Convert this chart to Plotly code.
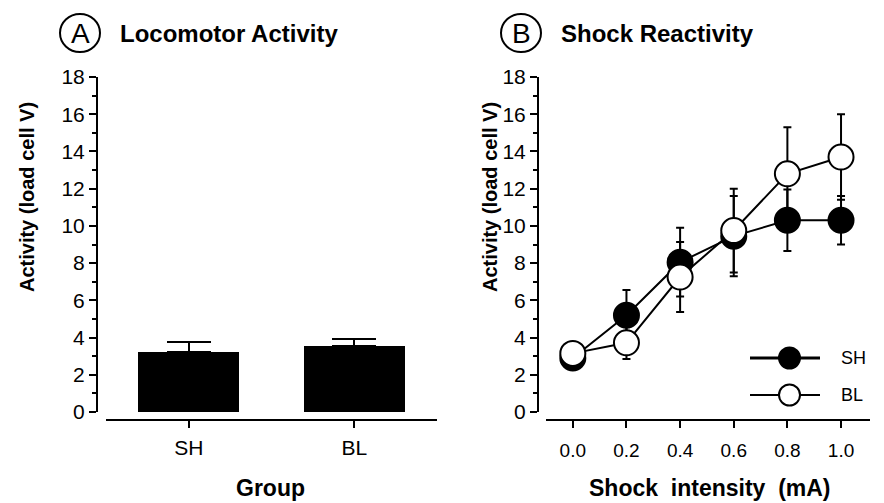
import plotly.graph_objects as go

W, H = 884, 503

# ---- data ----
groups = ["SH", "BL"]
loco_mean = [3.25, 3.55]
loco_sem = [0.50, 0.38]

shock_ma = [0.0, 0.2, 0.4, 0.6, 0.8, 1.0]
shock_ticktext = ["0.0", "0.2", "0.4", "0.6", "0.8", "1.0"]
sh_mean = [2.9, 5.2, 8.05, 9.45, 10.3, 10.3]
sh_sem = [0.25, 1.35, 1.85, 2.15, 1.65, 1.3]
bl_mean = [3.15, 3.72, 7.25, 9.75, 12.8, 13.7]
bl_sem = [0.25, 0.87, 1.88, 2.25, 2.5, 2.3]
y_ticks = list(range(0, 19, 2))

FONT = "Liberation Sans, Arial, Helvetica, sans-serif"


def px(x):
    return x / W


def py(y):
    return 1 - y / H


fig = go.Figure()

# Panel A bars
fig.add_trace(go.Bar(
    x=[0, 1], y=loco_mean, width=0.61,
    marker=dict(color="black", line=dict(width=0)),
    error_y=dict(type="data", array=loco_sem, arrayminus=[0, 0], symmetric=False,
                 color="black", thickness=2, width=22),
    xaxis="x", yaxis="y",
))

# Panel B lines
fig.add_trace(go.Scatter(
    x=shock_ma, y=sh_mean, mode="lines+markers", name="SH",
    line=dict(color="black", width=2),
    marker=dict(symbol="circle", size=25, color="black", line=dict(color="black", width=2)),
    error_y=dict(type="data", array=sh_sem, color="black", thickness=2, width=4),
    xaxis="x2", yaxis="y2",
))
fig.add_trace(go.Scatter(
    x=shock_ma, y=bl_mean, mode="lines+markers", name="BL",
    line=dict(color="black", width=2),
    marker=dict(symbol="circle", size=25, color="white", line=dict(color="black", width=2)),
    error_y=dict(type="data", array=bl_sem, color="black", thickness=2, width=4),
    xaxis="x2", yaxis="y2",
))

yax_common = dict(
    range=[0, 18], tickvals=y_ticks, showline=True, linewidth=2, linecolor="black",
    ticks="outside", ticklen=7, tickwidth=2, tickcolor="black",
    minor=dict(dtick=1, ticks="outside", ticklen=4, tickwidth=2, tickcolor="black"),
    showgrid=False, zeroline=False, anchor="free", automargin=False,
    tickfont=dict(family=FONT, size=21, color="black"),
    domain=[py(412), py(77)],
)
xax_common = dict(
    showline=True, linewidth=2, linecolor="black",
    ticks="outside", ticklen=7, tickwidth=2, tickcolor="black",
    showgrid=False, zeroline=False, anchor="free", position=py(420), automargin=False,
)

fig.update_layout(
    width=W, height=H, margin=dict(l=0, r=0, t=0, b=0, autoexpand=False),
    paper_bgcolor="white", plot_bgcolor="white", showlegend=False,
    bargap=0,
    xaxis=dict(domain=[px(106), px(437)], range=[-0.5, 1.5], tickvals=[0, 1], ticktext=groups,
               ticklabelstandoff=2,
               tickfont=dict(family=FONT, size=21, color="black"), **xax_common),
    yaxis=dict(position=px(97), **yax_common),
    xaxis2=dict(domain=[px(546), px(870)], range=[-0.1, 1.108], tickvals=shock_ma,
                ticktext=shock_ticktext, ticklabelstandoff=6,
                tickfont=dict(family=FONT, size=19, color="black"),
                **xax_common),
    yaxis2=dict(position=px(538), **yax_common),
)

ann = []


def add_text(text, x, y, size, xanchor="center", angle=0):
    ann.append(dict(text=text, x=px(x), y=py(y), xref="paper", yref="paper",
                    xanchor=xanchor, yanchor="middle", textangle=angle, showarrow=False,
                    font=dict(family=FONT, size=size, color="black")))


# axis titles
add_text("<b>Group</b>", 270, 488, 23)
add_text("<b>Shock  intensity  (mA)</b>", 710, 488, 23)
for xc in (27, 490):
    add_text("<b>Activity (load cell V)</b>", xc, 197, 20, angle=-90)
# panel titles
for cx, letter, title in ((80, "A", "Locomotor Activity"), (521, "B", "Shock Reactivity")):
    add_text(letter, cx, 33, 28)
    add_text("<b>" + title + "</b>", cx + 38, 33, 24, xanchor="left")
# legend text
for yy, name in ((358, "SH"), (395, "BL")):
    add_text(name, 839, yy, 18, xanchor="left")

shapes = []
for cx in (80, 521):
    shapes.append(dict(type="circle", xref="paper", yref="paper",
                       x0=px(cx - 20), x1=px(cx + 20), y0=py(52), y1=py(14),
                       line=dict(color="black", width=2)))
# legend symbols
for yy, fill, lw in ((358, "black", 3), (395, "white", 2)):
    shapes.append(dict(type="line", xref="paper", yref="paper", x0=px(750), x1=px(820),
                       y0=py(yy), y1=py(yy), line=dict(color="black", width=lw)))
    shapes.append(dict(type="circle", xref="paper", yref="paper",
                       x0=px(779), x1=px(800), y0=py(yy + 10.5), y1=py(yy - 10.5),
                       fillcolor=fill, line=dict(color="black", width=2)))

fig.update_layout(annotations=ann, shapes=shapes)
fig.write_html("out.html")
